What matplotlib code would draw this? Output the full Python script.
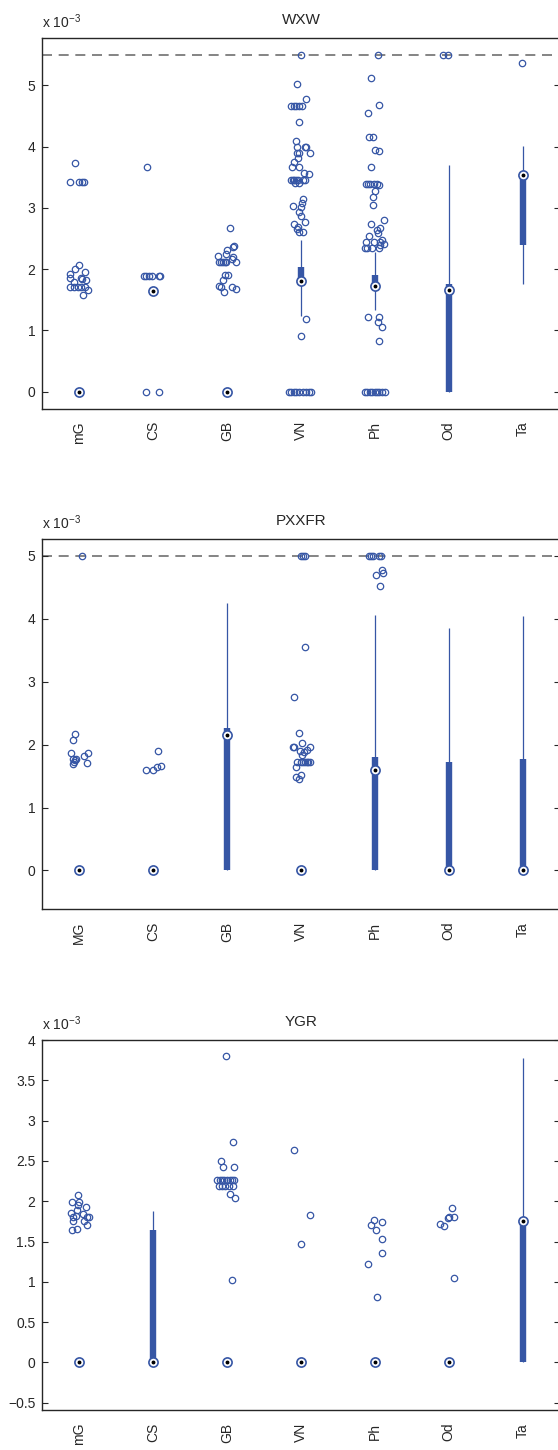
import numpy as np
import matplotlib
matplotlib.use("Agg")
import matplotlib.pyplot as plt

plt.rcParams['font.family'] = ['Liberation Sans', 'DejaVu Sans']

# values are in units of 1e-3
titles = ["WXW", "PXXFR", "YGR"]
cats1 = ["mG", "CS", "GB", "VN", "Ph", "Od", "Ta"]
cats2 = ["MG", "CS", "GB", "VN", "Ph", "Od", "Ta"]
cats3 = ["mG", "CS", "GB", "VN", "Ph", "Od", "Ta"]

# box stats: median, q1, q3, lower whisker, upper whisker
med1 = [0, 1.64, 0, 1.81, 1.72, 1.66, 3.54]
q1_1 = [0, 1.64, 0, 1.74, 1.72, 0, 2.39]
q3_1 = [0, 1.64, 0, 2.03, 1.91, 1.76, 3.54]
lo1 = [0, 1.64, 0, 1.24, 1.34, 0, 1.75]
hi1 = [0, 1.64, 0, 2.47, 2.28, 3.70, 4.01]

med2 = [0, 0, 2.16, 0, 1.59, 0, 0]
q1_2 = [0, 0, 0, 0, 0, 0, 0]
q3_2 = [0, 0, 2.26, 0, 1.80, 1.72, 1.77]
lo2 = [0, 0, 0, 0, 0, 0, 0]
hi2 = [0, 0, 4.26, 0, 4.06, 3.85, 4.04]

med3 = [0, 0, 0, 0, 0, 0, 1.76]
q1_3 = [0, 0, 0, 0, 0, 0, 0]
q3_3 = [0, 1.64, 0, 0, 0, 0, 1.76]
lo3 = [0, 0, 0, 0, 0, 0, 0]
hi3 = [0, 1.88, 0, 0, 0, 0, 3.78]

# outliers (value) and their horizontal jitter
out1 = [
    [3.73, 3.425, 3.425, 3.425, 3.425, 2.06, 2.0, 1.92, 1.95, 1.86, 1.86, 1.84, 1.82, 1.79,
     1.70, 1.70, 1.70, 1.70, 1.70, 1.655, 1.585],
    [3.676, 1.889, 1.889, 1.889, 1.889, 1.889, 1.889, 0, 0],
    [2.673, 2.374, 2.36, 2.31, 2.21, 2.24, 2.2, 2.124, 2.157, 2.124, 2.124, 2.124, 2.124, 2.124,
     1.905, 1.905, 1.82, 1.725, 1.71, 1.71, 1.68, 1.634],
    [5.5, 5.03, 4.78, 4.67, 4.67, 4.67, 4.67, 4.67, 4.395, 4.095, 4.0, 3.99, 3.99, 3.9, 3.9, 3.9,
     3.82, 3.75, 3.66, 3.66, 3.57, 3.55, 3.46, 3.46, 3.46, 3.46, 3.46, 3.46, 3.46, 3.41, 3.41,
     3.15, 3.08, 3.03, 3.02, 2.935, 2.87, 2.77, 2.73, 2.69, 2.65, 2.61, 2.61, 1.186, 0.904,
     0, 0, 0, 0, 0, 0, 0, 0, 0],
    [5.495, 5.125, 4.68, 4.55, 4.155, 4.155, 3.95, 3.93, 3.66, 3.39, 3.39, 3.39, 3.39, 3.39, 3.37,
     3.27, 3.18, 3.04, 2.8, 2.73, 2.67, 2.635, 2.59, 2.54, 2.47, 2.44, 2.445, 2.445, 2.41, 2.39,
     2.34, 2.34, 2.34, 2.34, 1.22, 1.21, 1.13, 1.06, 0.82, 0, 0, 0, 0, 0, 0, 0, 0, 0],
    [5.5, 5.5],
    [5.36],
]
jit1 = [
    [-0.064, -0.126, -0.005, 0.043, 0.067, -0.005, -0.064, -0.12, 0.072, -0.13, 0.023, 0.043, 0.096,
     -0.073, -0.126, -0.073, -0.015, 0.023, 0.072, 0.115, 0.048],
    [-0.077, -0.13, -0.096, -0.057, -0.009, 0.077, 0.096, -0.10, 0.073],
    [0.038, 0.10, 0.087, -0.005, -0.12, -0.02, 0.087, 0.12, 0.062, -0.106, -0.083, -0.058, -0.034,
     -0.01, -0.024, 0.015, -0.053, -0.106, -0.083, 0.062, 0.12, -0.043],
    [0.004, -0.05, 0.07, -0.136, -0.1, -0.064, -0.028, 0.017, -0.023, -0.068, 0.054, 0.068, -0.054,
     -0.054, -0.032, 0.117, -0.036, -0.087, -0.114, -0.019, 0.04, 0.113, -0.136, -0.108, -0.087,
     -0.064, -0.042, 0.035, 0.054, -0.077, -0.032, 0.035, 0.013, -0.109, 0.004, -0.028, 0.004,
     0.054, -0.1, -0.04, -0.054, -0.019, 0.035, 0.068, 0.0,
     -0.16, -0.13, -0.1, -0.06, -0.02, 0.03, 0.07, 0.11, 0.13],
    [0.048, -0.058, 0.057, -0.096, -0.083, -0.03, 0.0, 0.057, -0.058, -0.117, -0.088, -0.059, -0.01,
     0.029, 0.06, 0.0, -0.02, -0.02, 0.12, -0.058, 0.077, 0.03, 0.05, -0.083, 0.1, 0.077, -0.117,
     -0.01, 0.12, 0.077, -0.13, -0.107, -0.034, 0.062, -0.096, 0.053, 0.038, 0.096, 0.062,
     -0.13, -0.1, -0.07, -0.04, 0.0, 0.03, 0.06, 0.1, 0.135],
    [-0.073, -0.01],
    [-0.008],
]

out2 = [
    [5.0, 2.17, 2.08, 1.86, 1.87, 1.82, 1.77, 1.75, 1.77, 1.73, 1.70, 1.71],
    [1.90, 1.595, 1.59, 1.65, 1.655],
    [],
    [5.0, 5.0, 5.0, 3.555, 2.75, 2.18, 2.02, 1.965, 1.955, 1.965, 1.91, 1.885, 1.90, 1.83,
     1.73, 1.73, 1.73, 1.73, 1.73, 1.73, 1.73, 1.64, 1.48, 1.515, 1.46],
    [5.0, 5.0, 5.0, 5.0, 5.0, 4.775, 4.73, 4.695, 4.525],
    [],
    [],
]
jit2 = [
    [0.043, -0.054, -0.087, -0.11, 0.115, 0.067, -0.087, -0.054, -0.04, -0.07, -0.087, 0.1],
    [0.064, -0.09, 0.0, 0.058, 0.11],
    [],
    [0.0, 0.024, 0.062, 0.053, -0.096, -0.024, 0.015, -0.11, -0.096, 0.12, 0.082, 0.048, -0.01,
     0.015, -0.048, 0.0, 0.034, 0.062, 0.083, 0.12, 0.097, -0.072, -0.072, 0.0, -0.024],
    [-0.083, -0.049, -0.019, 0.062, 0.087, 0.096, 0.115, 0.014, 0.077],
    [],
    [],
]

out3 = [
    [2.077, 1.99, 1.99, 1.923, 1.956, 1.886, 1.853, 1.845, 1.80, 1.82, 1.81, 1.80, 1.75, 1.757,
     1.71, 1.654, 1.637],
    [],
    [3.80, 2.736, 2.504, 2.42, 2.42, 2.26, 2.26, 2.26, 2.26, 2.26, 2.26, 2.26, 2.26,
     2.185, 2.185, 2.185, 2.185, 2.185, 2.09, 2.04, 1.02],
    [2.63, 1.824, 1.468],
    [1.766, 1.741, 1.70, 1.642, 1.53, 1.356, 1.22, 0.816],
    [1.915, 1.79, 1.80, 1.80, 1.72, 1.695, 1.045],
    [],
]
jit3 = [
    [-0.019, -0.104, 0.0, 0.09, -0.02, -0.037, -0.118, 0.045, -0.091, -0.046, 0.099, 0.126,
     -0.091, 0.067, 0.099, -0.028, -0.104],
    [],
    [-0.009, 0.086, -0.08, -0.05, 0.09, -0.136, -0.1, -0.068, -0.037, 0.0, 0.035, 0.068, 0.1,
     -0.114, -0.068, -0.023, 0.022, 0.081, 0.045, 0.103, 0.072],
    [-0.096, 0.117, 0.004],
    [-0.015, 0.103, -0.046, 0.012, 0.103, 0.099, -0.096, 0.031],
    [0.04, -0.015, 0.003, 0.076, -0.114, -0.069, 0.066],
    [],
]

limit_lines = [5.5, 5.0, None]
ylims = [(-0.28, 5.77), (-0.62, 5.27), (-0.595, 4.0)]
yticks = [[0, 1, 2, 3, 4, 5], [0, 1, 2, 3, 4, 5], [-0.5, 0, 0.5, 1, 1.5, 2, 2.5, 3, 3.5, 4]]

blue = '#3656a5'
dark = '#262626'

fig = plt.figure(figsize=(5.58, 14.5), dpi=100)
left = 42.3 / 558
width = (559.5 - 42.3) / 558
tops = [38.3, 539, 1040]
h = 370.4 / 1450

panels = [
    (cats1, med1, q1_1, q3_1, lo1, hi1, out1, jit1),
    (cats2, med2, q1_2, q3_2, lo2, hi2, out2, jit2),
    (cats3, med3, q1_3, q3_3, lo3, hi3, out3, jit3),
]

for p, (cats, med, q1, q3, lo, hi, outs, jits) in enumerate(panels):
    ax = fig.add_axes([left, 1 - (tops[p] / 1450) - h, width, h])
    pos = np.arange(1, len(cats) + 1)

    if limit_lines[p] is not None:
        ax.axhline(limit_lines[p], color='#707070', lw=1.2, ls=(0, (6, 4)), zorder=1)

    ax.vlines(pos, lo, hi, color=blue, lw=0.9, zorder=2)
    ax.vlines(pos, q1, q3, color=blue, lw=4.6, zorder=3)

    for i in range(len(cats)):
        if len(outs[i]):
            ax.plot(pos[i] + np.array(jits[i]), outs[i], 'o', ms=4.6, mfc='none',
                    mec=blue, mew=0.9, zorder=4)

    ax.plot(pos, med, 'o', ms=6.6, mfc='white', mec=blue, mew=1.2, zorder=5)
    ax.plot(pos, med, 'o', ms=1.8, color='black', zorder=6)

    ax.set_xlim(0.5, 7.5)
    ax.set_ylim(*ylims[p])
    ax.set_yticks(yticks[p])
    ax.set_yticklabels([('%g' % t).replace('-', '\u2212') for t in yticks[p]])
    ax.set_xticks(pos)
    ax.set_xticklabels(cats, rotation=90, fontsize=10, color=dark)
    ax.tick_params(axis='x', length=0, pad=9)
    ax.tick_params(axis='y', direction='in', length=4, width=0.8, right=True,
                   labelsize=10, labelcolor=dark, color=dark, pad=5)
    for s in ax.spines.values():
        s.set_linewidth(1.0)
        s.set_color(dark)
    ax.set_title(titles[p], fontsize=11, color=dark, pad=10)
    ax.annotate('x 10$^{\\mathregular{-3}}$', xy=(0, 1), xycoords='axes fraction',
                xytext=(0, 5), textcoords='offset points', ha='left', va='bottom',
                fontsize=10, color=dark)

fig.savefig('out.png', dpi=100)
